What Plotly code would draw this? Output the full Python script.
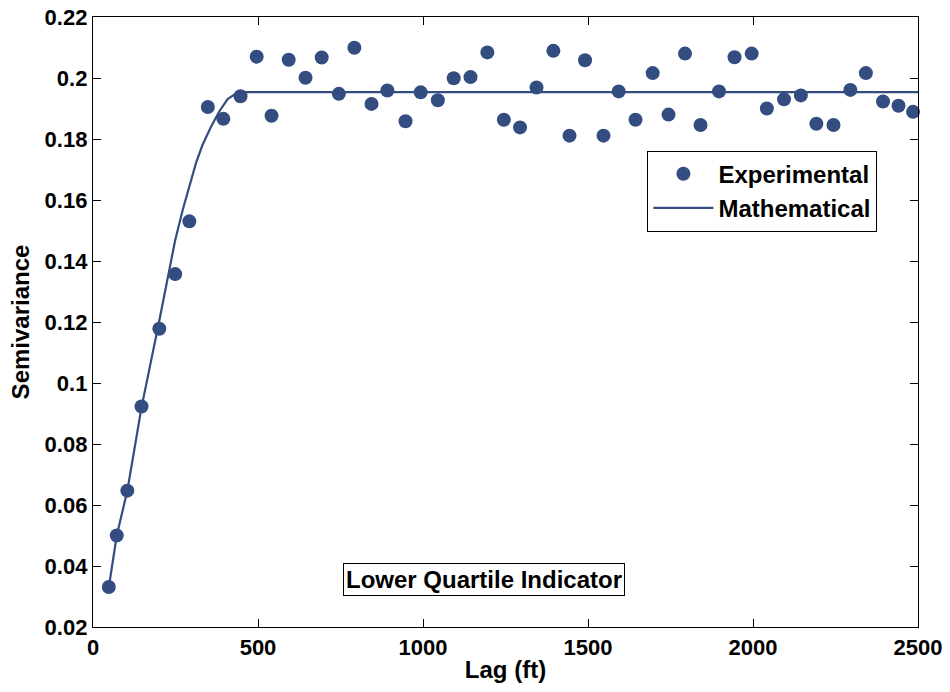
import plotly.graph_objects as go

# Experimental semivariogram (lag in ft, semivariance)
lag_ft = [48, 72, 104, 147, 201, 249, 292, 348, 395, 447, 496, 541, 593, 644, 693,
          745, 792, 844, 892, 947, 993, 1045, 1093, 1144, 1195, 1245, 1294, 1344,
          1395, 1444, 1491, 1547, 1593, 1644, 1696, 1744, 1794, 1841, 1897, 1944,
          1996, 2042, 2094, 2145, 2192, 2244, 2295, 2342, 2394, 2441, 2485]
semivariance = [0.0331, 0.0500, 0.0647, 0.0923, 0.1178, 0.1357, 0.1530, 0.1905,
                0.1866, 0.1940, 0.2070, 0.1876, 0.2060, 0.2001, 0.2067, 0.1948,
                0.2099, 0.1915, 0.1959, 0.1858, 0.1953, 0.1927, 0.1999, 0.2003,
                0.2084, 0.1863, 0.1838, 0.1969, 0.2089, 0.1811, 0.2058, 0.1811,
                0.1956, 0.1863, 0.2016, 0.1880, 0.2080, 0.1846, 0.1956, 0.2068,
                0.2080, 0.1900, 0.1930, 0.1943, 0.1850, 0.1846, 0.1961, 0.2016,
                0.1923, 0.1909, 0.1889]

# Fitted (mathematical) model curve, drawn as a polyline
model_lag = [48, 72, 104, 147, 201, 249, 272, 292, 312, 332, 358, 383, 408, 433,
             464, 2500]
model_gamma = [0.0331, 0.0500, 0.0647, 0.0920, 0.1205, 0.1468, 0.1568, 0.1645,
               0.1721, 0.1781, 0.1841, 0.1891, 0.1931, 0.1949, 0.1954, 0.1954]

x_ticks = [0, 500, 1000, 1500, 2000, 2500]
y_ticks = [0.02, 0.04, 0.06, 0.08, 0.1, 0.12, 0.14, 0.16, 0.18, 0.2, 0.22]
y_tick_text = ["0.02", "0.04", "0.06", "0.08", "0.1", "0.12", "0.14", "0.16",
               "0.18", "0.2", "0.22"]

BLUE = "#344d80"
FAMILY = "Liberation Sans, Arial, sans-serif"
TICK_FONT = dict(family=FAMILY, size=22, color="black", weight="bold")
TEXT_FONT = dict(family=FAMILY, size=24, color="black", weight="bold")

fig = go.Figure()
fig.add_trace(go.Scatter(
    x=lag_ft, y=semivariance, mode="markers", name="Experimental",
    marker=dict(color=BLUE, size=14, line=dict(width=0)), cliponaxis=False,
))
fig.add_trace(go.Scatter(
    x=model_lag, y=model_gamma, mode="lines", name="Mathematical",
    line=dict(color=BLUE, width=2.2),
))

axis_common = dict(
    showgrid=False, zeroline=False, showline=True, linecolor="black", linewidth=1.3,
    mirror="ticks", ticks="inside", ticklen=8, tickwidth=1, tickcolor="black",
    tickfont=TICK_FONT,
)

fig.update_xaxes(range=[0, 2500], tickvals=x_ticks,
                 title=dict(text="Lag (ft)", font=TEXT_FONT, standoff=2),
                 **axis_common)
fig.update_yaxes(range=[0.02, 0.22], tickvals=y_ticks, ticktext=y_tick_text,
                 title=dict(text="Semivariance", font=TEXT_FONT, standoff=8),
                 **axis_common)

fig.add_annotation(
    x=1185, y=0.0355, xref="x", yref="y", text="Lower Quartile Indicator",
    showarrow=False, font=TEXT_FONT, bgcolor="white", bordercolor="black",
    borderwidth=1, borderpad=2,
)

fig.update_layout(
    width=950, height=692,
    margin=dict(l=93, r=32, t=17, b=65, autoexpand=False),
    paper_bgcolor="white", plot_bgcolor="white",
    font=TEXT_FONT,
    legend=dict(x=0.672, y=0.781, xanchor="left", yanchor="top",
                bgcolor="white", bordercolor="black", borderwidth=1,
                font=TEXT_FONT, itemwidth=60),
    showlegend=True,
)

fig.write_html("out.html")
